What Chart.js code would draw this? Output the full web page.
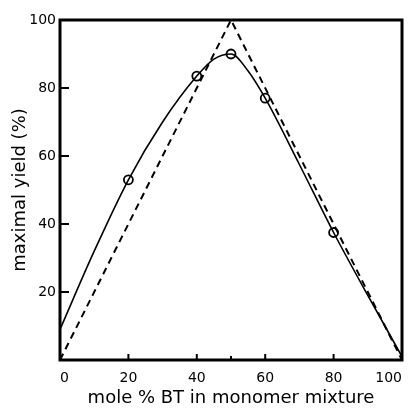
<!DOCTYPE html>
<html>
<head>
<meta charset="utf-8">
<script src="https://cdn.jsdelivr.net/npm/chart.js@4/dist/chart.umd.min.js"></script>
<style>
  body { margin: 0; background: #fff; }
  #wrap { width: 411px; height: 409px; }
</style>
</head>
<body>
<div id="wrap"><canvas id="myChart" width="411" height="409"></canvas></div>
<script>
// measured points (open circles)
var molePct = [20, 40, 50, 60, 80];
var yieldPct = [53, 83.5, 90, 77, 37.5];

// smooth fitted curve
var curveX = [0, 10, 20, 30, 40, 45, 50, 55, 60, 70, 80, 90, 100];
var curveY = [9, 32, 53, 70, 83.5, 88.5, 90, 85, 77, 57.5, 37.5, 19, 1];

// dashed triangle
var triX = [0, 50, 100];
var triY = [0, 100, 0];

var xTicks = [0, 20, 40, 60, 80, 100];
var yTicks = [20, 40, 60, 80, 100];

function pts(xs, ys) {
  return xs.map(function (x, i) { return { x: x, y: ys[i] }; });
}

// box frame + inward ticks
var framePlugin = {
  id: 'frame',
  afterDraw: function (chart) {
    var ctx = chart.ctx, a = chart.chartArea;
    var sx = chart.scales.x, sy = chart.scales.y;
    ctx.save();
    ctx.strokeStyle = '#000';
    ctx.lineWidth = 3;
    ctx.strokeRect(a.left, a.top, a.right - a.left, a.bottom - a.top);
    ctx.lineWidth = 2;
    ctx.beginPath();
    [20, 40, 50, 60, 80].forEach(function (v) {
      var px = sx.getPixelForValue(v);
      ctx.moveTo(px, a.bottom);
      ctx.lineTo(px, a.bottom - (v == 50 ? 4 : 6));
    });
    yTicks.forEach(function (v) {
      var py = sy.getPixelForValue(v);
      ctx.moveTo(a.left, py);
      ctx.lineTo(a.left + 9, py);
    });
    ctx.stroke();
    ctx.restore();
  }
};

var pickChart = document.getElementById('myChart');
var drawChart = new Chart(pickChart, {
  type: 'scatter',
  data: {
    datasets: [
      {
        data: pts(triX, triY),
        showLine: true,
        borderColor: '#000',
        borderWidth: 2,
        borderDash: [7, 5],
        pointRadius: 0,
        tension: 0
      },
      {
        data: pts(curveX, curveY),
        showLine: true,
        borderColor: '#000',
        borderWidth: 1.6,
        pointRadius: 0,
        cubicInterpolationMode: 'monotone'
      },
      {
        data: pts(molePct, yieldPct),
        showLine: false,
        pointRadius: 4.5,
        pointBorderWidth: 1.8,
        pointBackgroundColor: '#fff',
        pointBorderColor: '#000'
      }
    ]
  },
  options: {
    responsive: false,
    animation: false,
    layout: { padding: { top: 20, right: 9, left: 10, bottom: 0 } },
    plugins: { legend: { display: false }, tooltip: { enabled: false } },
    scales: {
      x: {
        type: 'linear',
        min: 0, max: 100,
        afterBuildTicks: function (s) { s.ticks = xTicks.map(function (v) { return { value: v }; }); },
        afterFit: function (s) { s.height = 49; s.paddingRight = 0; s.paddingLeft = 0; },
        grid: { display: false, drawTicks: false },
        border: { display: false },
        ticks: { color: '#000', padding: 10, align: 'inner', font: { family: 'DejaVu Sans', size: 14 } },
        title: {
          display: true,
          text: 'mole % BT in monomer mixture',
          color: '#000',
          padding: { top: 1, bottom: 0 },
          font: { family: 'DejaVu Sans', size: 18 }
        }
      },
      y: {
        min: 0, max: 100,
        afterBuildTicks: function (s) { s.ticks = yTicks.map(function (v) { return { value: v }; }); },
        afterFit: function (s) { s.width = 50; s.paddingTop = 0; s.paddingBottom = 0; },
        grid: { display: false, drawTicks: false },
        border: { display: false },
        ticks: { color: '#000', padding: 4, font: { family: 'DejaVu Sans', size: 14 } },
        title: {
          display: true,
          text: 'maximal yield (%)',
          color: '#000',
          padding: { top: 0, bottom: 2 },
          font: { family: 'DejaVu Sans', size: 18 }
        }
      }
    }
  },
  plugins: [framePlugin]
});
</script>
</body>
</html>
